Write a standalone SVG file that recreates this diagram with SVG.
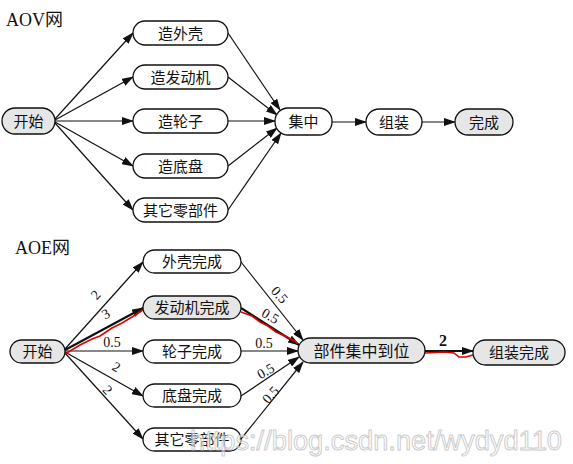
<svg xmlns="http://www.w3.org/2000/svg" width="573" height="464" viewBox="0 0 573 464">
<defs>
<style>
.n{stroke:#111;stroke-width:1.3;fill:#fff}
.g{fill:#e6e6e6}
.t{font-family:"Noto Sans CJK SC",sans-serif;font-size:15px;fill:#111;text-anchor:middle}
.h{font-family:"Liberation Serif","Noto Sans CJK SC",serif;font-size:18px;fill:#111}
.e{stroke:#111;stroke-width:1.2;fill:none;marker-end:url(#a)}
.k{stroke-width:2.2}
.r{stroke:#e00000;stroke-width:1.6;fill:none}
.l{font-family:"Liberation Serif",serif;font-size:14px;fill:#111;text-anchor:middle}
</style>
<marker id="a" markerUnits="userSpaceOnUse" markerWidth="12" markerHeight="8" refX="11" refY="4" orient="auto" viewBox="0 0 12 8">
<path d="M0,0 L12,4 L0,8 Z" fill="#111"/>
</marker>
</defs>
<text class="h" x="6" y="26">AOV网</text>
<text class="h" x="15" y="254">AOE网</text>
<g id="connectors">
<path class="e" d="M55,119 L133,33"/>
<path class="e" d="M55,120 L133,77"/>
<path class="e" d="M55,121 L133,121"/>
<path class="e" d="M55,122 L133,166"/>
<path class="e" d="M55,123 L133,210"/>
<path class="e" d="M228,33 L280,110"/>
<path class="e" d="M228,77 L277,115"/>
<path class="e" d="M228,121 L275,121"/>
<path class="e" d="M228,166 L277,128"/>
<path class="e" d="M228,210 L281,133"/>
<path class="e" d="M332,122 L366,122"/>
<path class="e" d="M422,122 L455,122"/>
<path class="e" d="M65,349 L143,262"/>
<path class="e k" d="M65,350 L143,308"/>
<path class="e" d="M65,351 L143,351"/>
<path class="e" d="M65,352 L143,396"/>
<path class="e" d="M65,353 L143,439"/>
<path class="e" d="M241,262 L303,340"/>
<path class="e k" d="M241,308 L299,345"/>
<path class="e" d="M241,351 L298,351"/>
<path class="e" d="M241,396 L299,357"/>
<path class="e" d="M241,439 L303,362"/>
<path class="e k" d="M425,351 L473,351"/>
<path class="r" d="M65,354 L80,345 L92,339 L100,336 L112,328 L122,323 L132,317 L143,310"/>
<path class="r" d="M241,312 L252,316 L260,322 L268,326 L276,332 L285,336 L295,341 L298,344"/>
<path class="r" d="M425,353 L445,352 L454,353 L459,357 L466,357 L473,355"/>
<text class="l" transform="translate(99,298) rotate(-48)">2</text>
<text class="l" transform="translate(108,318) rotate(-29)">3</text>
<text class="l" x="112" y="347">0.5</text>
<text class="l" transform="translate(114,371) rotate(30)">2</text>
<text class="l" transform="translate(104,393) rotate(48)">2</text>
<text class="l" transform="translate(276,298) rotate(48)">0.5</text>
<text class="l" transform="translate(268,320) rotate(30)">0.5</text>
<text class="l" x="264" y="348">0.5</text>
<text class="l" transform="translate(268,375) rotate(-30)">0.5</text>
<text class="l" transform="translate(274,398) rotate(-48)">0.5</text>
<text class="l" x="443" y="346" style="font-size:16px;font-weight:bold">2</text>
</g>
<g id="aov-start"><rect class="n g" x="2" y="108" width="53" height="26" rx="13"/><text class="t" x="28.5" y="126.5">开始</text></g>
<g id="aov-shell"><rect class="n" x="133" y="21" width="95" height="24" rx="12"/><text class="t" x="180.5" y="38.5">造外壳</text></g>
<g id="aov-engine"><rect class="n" x="133" y="65" width="95" height="24" rx="12"/><text class="t" x="180.5" y="82.5">造发动机</text></g>
<g id="aov-wheel"><rect class="n" x="133" y="109" width="95" height="24" rx="12"/><text class="t" x="180.5" y="126.5">造轮子</text></g>
<g id="aov-chassis"><rect class="n" x="133" y="154" width="95" height="24" rx="12"/><text class="t" x="180.5" y="171.5">造底盘</text></g>
<g id="aov-parts"><rect class="n" x="133" y="198" width="95" height="24" rx="12"/><text class="t" x="180.5" y="215.5">其它零部件</text></g>
<g id="aov-gather"><rect class="n" x="275" y="108" width="57" height="27" rx="13"/><text class="t" x="303.5" y="127">集中</text></g>
<g id="aov-assemble"><rect class="n" x="366" y="109" width="56" height="26" rx="13"/><text class="t" x="394" y="127.5">组装</text></g>
<g id="aov-done"><rect class="n g" x="455" y="109" width="58" height="26" rx="13"/><text class="t" x="484" y="127.5">完成</text></g>
<g id="aoe-start"><rect class="n g" x="10" y="340" width="55" height="23" rx="11.5"/><text class="t" x="37.5" y="357">开始</text></g>
<g id="aoe-shell"><rect class="n" x="143" y="250" width="98" height="23" rx="11.5"/><text class="t" x="192" y="267">外壳完成</text></g>
<g id="aoe-engine"><rect class="n g" x="143" y="296" width="98" height="23" rx="11.5"/><text class="t" x="192" y="313">发动机完成</text></g>
<g id="aoe-wheel"><rect class="n" x="143" y="340" width="98" height="23" rx="11.5"/><text class="t" x="192" y="357">轮子完成</text></g>
<g id="aoe-chassis"><rect class="n" x="143" y="384" width="98" height="23" rx="11.5"/><text class="t" x="192" y="401">底盘完成</text></g>
<g id="aoe-parts"><rect class="n" x="143" y="428" width="98" height="23" rx="11.5"/><text class="t" x="192" y="445">其它零部件</text></g>
<g id="aoe-gather"><rect class="n g" x="298" y="338" width="127" height="25" rx="12.5"/><text class="t" x="361.5" y="356.5" style="font-size:16px">部件集中到位</text></g>
<g id="aoe-assemble"><rect class="n g" x="473" y="340" width="92" height="25" rx="12.5"/><text class="t" x="519" y="358">组装完成</text></g>
<text x="190" y="450" textLength="372" lengthAdjust="spacingAndGlyphs" style="font-family:'Liberation Sans',sans-serif;font-size:28px;fill:#ffffff;fill-opacity:0.55;stroke:#bdbdbd;stroke-width:1;stroke-opacity:0.8">https://blog.csdn.net/wydyd110</text>
</svg>
